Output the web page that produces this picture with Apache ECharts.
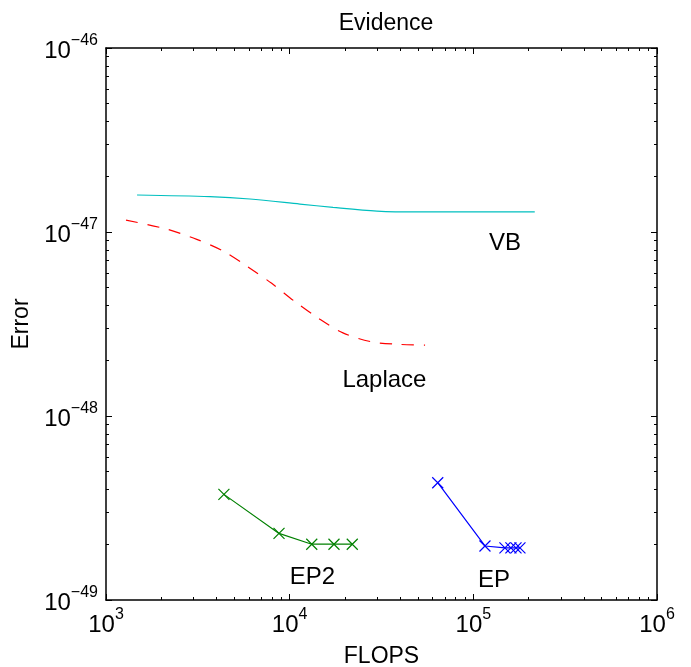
<!DOCTYPE html>
<html><head><meta charset="utf-8">
<script src="https://cdn.jsdelivr.net/npm/echarts@6/dist/echarts.min.js"></script>
<style>html,body{margin:0;padding:0;background:#fff}#c{width:691px;height:667px}</style>
</head><body><div id="c"></div>
<script>
// ---- data (FLOPS, Error) ----
const vbX = [1476, 3680, 6080, 11370, 17220, 29870, 49300, 92300, 216000];
const vbY = [1.589e-47, 1.556e-47, 1.511e-47, 1.419e-47, 1.361e-47, 1.300e-47, 1.285e-47, 1.285e-47, 1.285e-47];
const lapX = [1285, 2140, 3120, 4340, 5840, 7980, 10700, 14260, 19500, 27900, 39800, 54600];
const lapY = [1.161e-47, 1.037e-47, 9.12e-48, 7.88e-48, 6.53e-48, 5.26e-48, 4.18e-48, 3.41e-48, 2.83e-48, 2.53e-48, 2.45e-48, 2.43e-48];
const ep2X = [4385, 8750, 13190, 17430, 21920];
const ep2Y = [3.75e-49, 2.30e-49, 2.01e-49, 2.01e-49, 2.01e-49];
const epX = [64000, 115700, 148600, 160200, 170700, 179400];
const epY = [4.34e-49, 1.966e-49, 1.92e-49, 1.92e-49, 1.92e-49, 1.92e-49];
// in-plot text labels
const labelNames = ['VB', 'Laplace', 'EP2', 'EP'];
const labelX = [148600, 32800, 13300, 129400];
const labelY = [8.86e-48, 1.609e-48, 1.355e-49, 1.318e-49];
// axis decades (exponents of 10)
const xExp = [3, 4, 5, 6];
const yExp = [-49, -48, -47, -46];
const titleText = 'Evidence';
const xName = 'FLOPS';
const yName = 'Error';

const FONT = '"Liberation Sans", Arial, Helvetica, sans-serif';
const zip = (a, b) => a.map((v, i) => [v, b[i]]);
function minorOf(exps) {
  const out = [];
  for (let i = 0; i < exps.length - 1; i++)
    for (let k = 2; k <= 9; k++) out.push(exps[i] + Math.log10(k));
  return out;
}
const xMinor = minorOf(xExp), yMinor = minorOf(yExp);
const rich = {
  b: {fontSize: 24, fontFamily: FONT, color: '#000', verticalAlign: 'bottom'},
  s: {fontSize: 16, fontFamily: FONT, color: '#000', verticalAlign: 'bottom', padding: [0, 0, 14, 0]}
};
const powFmt = v => '{b|10}{s|' + String(Math.round(v)).replace('-', '\u2212') + '}';
const lineBlack = {show: true, lineStyle: {color: '#000', width: 1.5}};

function decoAxis(exps, pos, opts) {
  return Object.assign({
    type: 'value', position: pos, min: exps[0], max: exps[exps.length - 1],
    interval: 1, splitLine: {show: false}, axisLine: lineBlack,
    axisTick: {show: true, inside: true, length: 6, lineStyle: {color: '#000', width: 1}},
    axisLabel: {show: false}
  }, opts);
}
function minorAxis(exps, pos, minors) {
  return decoAxis(exps, pos, {
    axisLine: {show: false},
    axisTick: {show: true, inside: true, length: 3, customValues: minors, lineStyle: {color: '#000', width: 1}}
  });
}

const option = {
  animation: false,
  backgroundColor: '#fff',
  title: {text: titleText, left: 381, top: 7, textAlign: 'center',
    textStyle: {fontSize: 23, fontWeight: 'normal', fontFamily: FONT, color: '#000'}},
  grid: {left: 106, right: 34, top: 48, bottom: 67, containLabel: false, outerBoundsMode: 'none'},
  xAxis: [
    {type: 'log', logBase: 10, min: 1e3, max: 1e6, show: false},
    decoAxis(xExp, 'bottom', {
      axisLabel: {show: true, formatter: powFmt, rich: rich, margin: 7},
      name: xName, nameLocation: 'middle', nameGap: 45,
      nameTextStyle: {fontSize: 23, fontFamily: FONT, color: '#000'}
    }),
    minorAxis(xExp, 'bottom', xMinor),
    decoAxis(xExp, 'top'),
    minorAxis(xExp, 'top', xMinor)
  ],
  yAxis: [
    {type: 'log', logBase: 10, min: 1e-49, max: 1e-46, show: false},
    decoAxis(yExp, 'left', {
      axisLabel: {show: true, formatter: powFmt, rich: rich, margin: 8},
      name: yName, nameLocation: 'middle', nameGap: 71, nameRotate: 90,
      nameTextStyle: {fontSize: 23, fontFamily: FONT, color: '#000'}
    }),
    minorAxis(yExp, 'left', yMinor),
    decoAxis(yExp, 'right'),
    minorAxis(yExp, 'right', yMinor)
  ],
  series: [
    {type: 'line', xAxisIndex: 0, yAxisIndex: 0, data: zip(vbX, vbY), smooth: 0.3,
      showSymbol: false, lineStyle: {color: '#00bfbf', width: 1.2}},
    {type: 'line', xAxisIndex: 0, yAxisIndex: 0, data: zip(lapX, lapY), smooth: 0.3,
      showSymbol: false, lineStyle: {color: '#ff0000', width: 1.2, type: [12, 10]}},
    {type: 'line', xAxisIndex: 0, yAxisIndex: 0, data: zip(ep2X, ep2Y),
      symbol: 'path://M0,0L10,10M10,0L0,10', symbolSize: 11, showSymbol: true,
      itemStyle: {color: 'rgba(0,0,0,0)', borderColor: '#008000', borderWidth: 1.2},
      lineStyle: {color: '#008000', width: 1.2}},
    {type: 'line', xAxisIndex: 0, yAxisIndex: 0, data: zip(epX, epY),
      symbol: 'path://M0,0L10,10M10,0L0,10', symbolSize: 11, showSymbol: true,
      itemStyle: {color: 'rgba(0,0,0,0)', borderColor: '#0000ff', borderWidth: 1.2},
      lineStyle: {color: '#0000ff', width: 1.2}},
    {type: 'scatter', xAxisIndex: 0, yAxisIndex: 0, symbolSize: 0, silent: true,
      itemStyle: {opacity: 1},
      data: labelNames.map((n, i) => ({name: n, value: [labelX[i], labelY[i]]})),
      label: {show: true, position: 'inside', offset: [0, 2], formatter: p => p.name,
        fontSize: 24, fontFamily: FONT, color: '#000', textBorderWidth: 0, opacity: 1}}
  ]
};
const chart = echarts.init(document.getElementById('c'), null, {renderer: 'canvas'});
chart.setOption(option);
</script>
</body></html>
